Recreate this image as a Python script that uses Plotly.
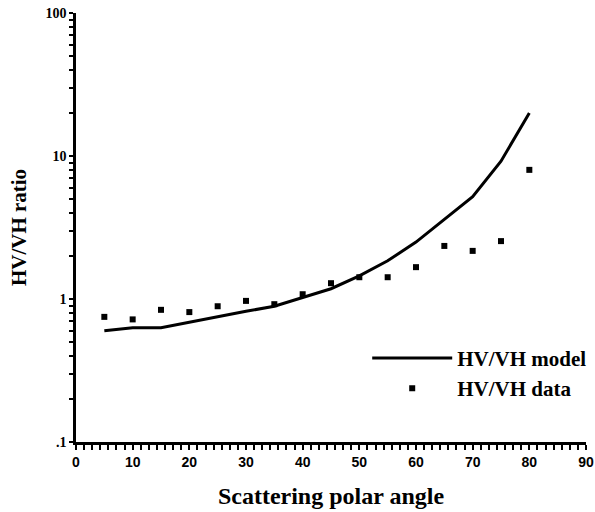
import plotly.graph_objects as go

# Scattering polar angle (degrees)
angle = [5, 10, 15, 20, 25, 30, 35, 40, 45, 50, 55, 60, 65, 70, 75, 80]

# HV/VH ratio: model curve and measured data
model_ratio = [0.60, 0.63, 0.63, 0.69, 0.75, 0.82, 0.89, 1.02, 1.18, 1.45,
               1.85, 2.5, 3.6, 5.2, 9.2, 20.0]
data_ratio = [0.75, 0.72, 0.84, 0.81, 0.89, 0.97, 0.92, 1.08, 1.29, 1.42,
              1.42, 1.67, 2.35, 2.17, 2.54, 8.0]

# Labelled ticks
x_labels = [0, 10, 20, 30, 40, 50, 60, 70, 80, 90]
y_labels = {0.1: ".1", 1: "1", 10: "10", 100: "100"}

# Every tick mark: seven divisions per ten degrees, 1..9 per decade
x_tickvals = [k * 10 / 7 for k in range(0, 64)]
x_ticktext = []
for v in x_tickvals:
    hit = [lab for lab in x_labels if abs(v - lab) < 1e-6]
    x_ticktext.append(f"<b>{hit[0]}</b>" if hit else "")

y_tickvals = [m * d for d in (0.1, 1, 10) for m in range(1, 10)] + [100]
y_ticktext = [f"<b>{y_labels[v]}</b>" if v in y_labels else ""
              for v in y_tickvals]

serif = "Liberation Serif"

fig = go.Figure()
fig.add_trace(go.Scatter(
    x=angle, y=model_ratio, mode="lines", name="<b>HV/VH model</b>",
    line=dict(color="black", width=3),
))
fig.add_trace(go.Scatter(
    x=angle, y=data_ratio, mode="markers", name="<b>HV/VH data</b>",
    marker=dict(color="black", symbol="square", size=6),
))

fig.update_layout(
    width=595, height=512,
    margin=dict(l=76, r=9, t=13, b=70, autoexpand=False),
    paper_bgcolor="white", plot_bgcolor="white",
    showlegend=True,
    legend=dict(
        x=0.571, y=0.243, xanchor="left", yanchor="top",
        bgcolor="rgba(0,0,0,0)",
        font=dict(family=serif, size=21, color="black"),
        itemwidth=80, tracegroupgap=0,
    ),
    xaxis=dict(
        range=[0, 90], tickmode="array", tickvals=x_tickvals,
        ticktext=x_ticktext, automargin=False,
        showline=True, linecolor="black", linewidth=2.5,
        ticks="outside", ticklen=5, tickwidth=2, tickcolor="black",
        showgrid=False, zeroline=False,
        tickfont=dict(family="Liberation Sans", size=14, color="black"),
        title=dict(text="<b>Scattering polar angle</b>", standoff=19,
                   font=dict(family=serif, size=24, color="black")),
    ),
    yaxis=dict(
        type="log", range=[-1, 2], automargin=False,
        tickmode="array", tickvals=y_tickvals, ticktext=y_ticktext,
        showline=True, linecolor="black", linewidth=2.5,
        ticks="outside", ticklen=4, tickwidth=2, tickcolor="black",
        showgrid=False, zeroline=False,
        tickfont=dict(family=serif, size=14, color="black"),
        title=dict(text="<b>HV/VH ratio</b>", standoff=14,
                   font=dict(family=serif, size=21, color="black")),
    ),
)

fig.write_html("out.html")
